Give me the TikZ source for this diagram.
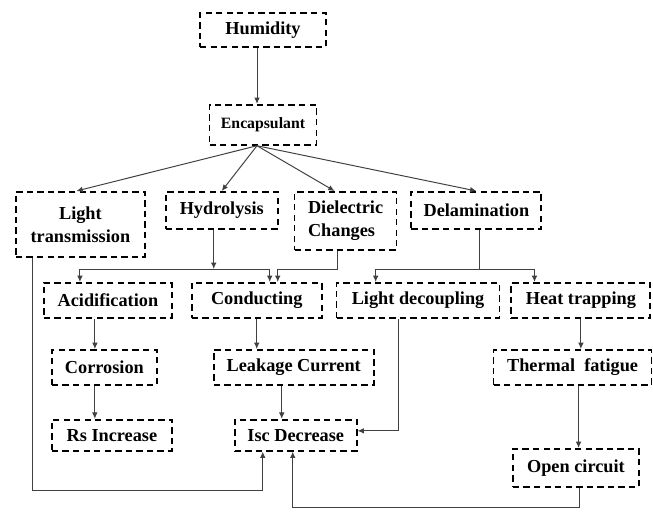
\documentclass[tikz,border=0pt]{standalone}
\usepackage{fontspec}
\setmainfont{Liberation Serif}
\usetikzlibrary{arrows.meta, positioning}

\begin{document}
\begin{tikzpicture}[
    box/.style={draw=black, rectangle, line width=1.3pt, dash pattern=on 4.5pt off 3pt, minimum height=0.875cm, inner sep=2pt, align=center, font=\bfseries\fontsize{13}{16.3}\selectfont},
    line/.style={draw=black!75, line width=0.7pt},
    arrow/.style={->, >={Latex[length=4.5pt,width=4pt]}, draw=black!75, line width=0.7pt}
]
\useasboundingbox (0,0) rectangle (16.325,-12.825);
\node[box, minimum width=3.15cm, minimum height=0.85cm] (humidity) at (6.575,-0.75) {Humidity};
\node[box, minimum width=2.675cm, minimum height=1cm, font=\bfseries\fontsize{11.2}{14}\selectfont, below=1.4cm of humidity] (encap) {Encapsulant};
\node[box, minimum width=3.225cm, minimum height=1.625cm, anchor=north west] (lighttx) at (0.375,-4.775) {Light\\transmission};
\node[box, minimum width=2.8cm, minimum height=0.925cm, right=0.475cm of lighttx.north east, anchor=north west] (hydro) {Hydrolysis};
\node[box, minimum width=2.55cm, minimum height=1.45cm, align=left, right=0.375cm of hydro.north east, anchor=north west] (dielec) {Dielectric\\Changes};
\node[box, minimum width=3.25cm, minimum height=0.925cm, right=0.325cm of dielec.north east, anchor=north west] (delam) {Delamination};
\node[box, minimum width=3.2cm, anchor=north west] (acid) at (1.075,-7.05) {Acidification};
\node[box, minimum width=3.25cm, right=0.45cm of acid] (conduct) {Conducting};
\node[box, minimum width=4.075cm, right=0.325cm of conduct] (lightdec) {Light decoupling};
\node[box, minimum width=3.475cm, right=0.25cm of lightdec] (heat) {Heat trapping};
\node[box, minimum width=2.625cm, anchor=north west] (corros) at (1.275,-8.725) {Corrosion};
\node[box, minimum width=4cm, right=1.375cm of corros] (leak) {Leakage Current};
\node[box, minimum width=3.95cm, right=2.95cm of leak] (thermal) {Thermal\ \ fatigue};
\node[box, minimum width=3cm, minimum height=0.775cm, below=0.825cm of corros.south west, anchor=north west] (rs) {Rs Increase};
\node[box, minimum width=3.05cm, minimum height=0.775cm, right=1.525cm of rs] (isc) {Isc Decrease};
\node[box, minimum width=3.15cm, minimum height=0.95cm, anchor=north west] (open) at (12.8,-11.2) {Open circuit};
\coordinate (fan) at ([xshift=-0.15cm]encap.south);
\coordinate (bus) at ([yshift=0.325cm]acid.north);
\coordinate (loopa) at ([yshift=-0.975cm]isc.south);
\coordinate (loopb) at ([yshift=-0.5cm]open.south);
\draw[arrow] ([xshift=-0.15cm]humidity.south) -- ([xshift=-0.15cm]humidity.south |- encap.north);
\draw[arrow] (fan) -- ([xshift=-0.1cm]lighttx.north);
\draw[arrow] (fan) -- (hydro.north);
\draw[arrow] (fan) -- ([xshift=-0.275cm]dielec.north);
\draw[arrow] (fan) -- (delam.north);
\draw[arrow] ([xshift=-0.2cm]hydro.south) -- ([xshift=-0.2cm]hydro.south |- bus);
\draw[arrow] ([xshift=0.325cm]conduct.north |- bus) -| ([xshift=-0.7cm]acid.north);
\draw[arrow] ([xshift=0.325cm]conduct.north |- bus) -- ([xshift=0.325cm]conduct.north);
\draw[arrow] ([xshift=-0.2cm]dielec.south) |- ([xshift=0.525cm]conduct.north |- bus) -- ([xshift=0.525cm]conduct.north);
\draw[line] ([xshift=0.075cm]delam.south) -- ([xshift=0.075cm]delam.south |- bus);
\draw[arrow] ([xshift=-1.16cm]heat.north |- bus) -| ([xshift=-1.06cm]lightdec.north);
\draw[arrow] ([xshift=-1.16cm]heat.north |- bus) -- ([xshift=-1.16cm]heat.north);
\draw[arrow] ([xshift=-0.325cm]acid.south) -- ([xshift=-0.325cm]acid.south |- corros.north);
\draw[arrow] ([xshift=-0.24cm]corros.south) -- ([xshift=-0.24cm]corros.south |- rs.north);
\draw[arrow] (conduct.south) -- (conduct.south |- leak.north);
\draw[arrow] ([xshift=-0.3cm]leak.south) -- ([xshift=-0.3cm]leak.south |- isc.north);
\draw[arrow] (heat.south) -- (heat.south |- thermal.north);
\draw[arrow] ([xshift=0.15cm]thermal.south) -- ([xshift=0.15cm]thermal.south |- open.north);
\draw[arrow] ([xshift=-0.49cm]lightdec.south) |- ([yshift=0.11cm]isc.east);
\draw[arrow] ([xshift=-1.21cm]lighttx.south) |- ([xshift=-0.825cm]loopa) -- ([xshift=-0.825cm]isc.south);
\draw[arrow] ([xshift=0.1cm]open.south) -- ([xshift=0.1cm]loopb) -| ([xshift=-0.075cm]isc.south);
\end{tikzpicture}
\end{document}
